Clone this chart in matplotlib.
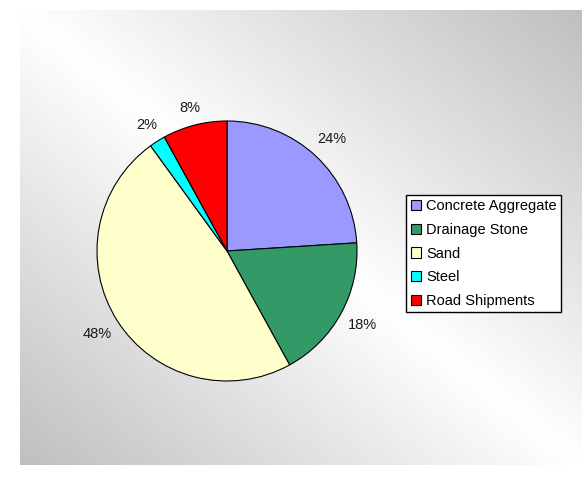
import matplotlib
matplotlib.use("Agg")
import matplotlib.pyplot as plt
import numpy as np

plt.rcParams['font.family'] = ['Liberation Sans', 'DejaVu Sans']

categories = ["Concrete Aggregate", "Drainage Stone", "Sand", "Steel", "Road Shipments"]
shares = [24, 18, 48, 2, 8]
colors = ["#9999FF", "#339966", "#FFFFCC", "#00FFFF", "#FF0000"]

W, H = 582, 491
fig = plt.figure(figsize=(W / 100, H / 100), dpi=100)
fig.patch.set_facecolor("white")

# axial grey gradient behind the chart (grey at top-right / bottom-left, white on the diagonal)
bg = fig.add_axes([20 / W, (H - 465) / H, 562 / W, 455 / H])
xx, yy = np.meshgrid(np.linspace(0, 1, 400), np.linspace(0, 1, 400))
t = np.abs(xx - yy)
shade = 1.0 - (1.0 - 0.75) * t
bg.imshow(np.dstack([shade, shade, shade]), aspect="auto", extent=(0, 1, 1, 0),
          interpolation="bilinear")
bg.set_axis_off()

# pie: centre (227, 251) px, radius 130 px
r = 130
ax = fig.add_axes([(227 - r) / W, (H - 251 - r) / H, 2 * r / W, 2 * r / H])
wedges, _, autotexts = ax.pie(shares, colors=colors, startangle=90, counterclock=False,
                              autopct="%d%%", pctdistance=1.2,
                              wedgeprops=dict(edgecolor="black", linewidth=0.8))
ax.set_xlim(-1, 1)
ax.set_ylim(-1, 1)
ax.set_aspect("equal")
ax.set_axis_off()

# place each percentage a fixed gap outside the rim, like the original
fig.canvas.draw()
renderer = fig.canvas.get_renderer()
gap = 8.0  # px
for w, txt in zip(wedges, autotexts):
    txt.set_fontsize(10.5)
    txt.set_color("#1a1a1a")
    bb = txt.get_window_extent(renderer)
    ang = np.deg2rad((w.theta1 + w.theta2) / 2)
    c, s = np.cos(ang), np.sin(ang)
    d = r + gap + 0.5 * (bb.width * abs(c) + bb.height * abs(s))
    txt.set_position((d / r * c, d / r * s))
    txt.set_ha("center")
    txt.set_va("center")

leg = fig.legend(wedges, categories, loc="upper right",
                 bbox_to_anchor=(561 / W, 1 - 195 / H), fontsize=10.5,
                 fancybox=False, frameon=True, borderaxespad=0,
                 handlelength=0.7, handleheight=0.7, handletextpad=0.35,
                 labelspacing=0.66, borderpad=0.3)
leg.get_frame().set_edgecolor("black")
leg.get_frame().set_linewidth(1.0)
leg.get_frame().set_facecolor("white")
leg.get_frame().set_alpha(1)

fig.savefig("out.png", dpi=100)
